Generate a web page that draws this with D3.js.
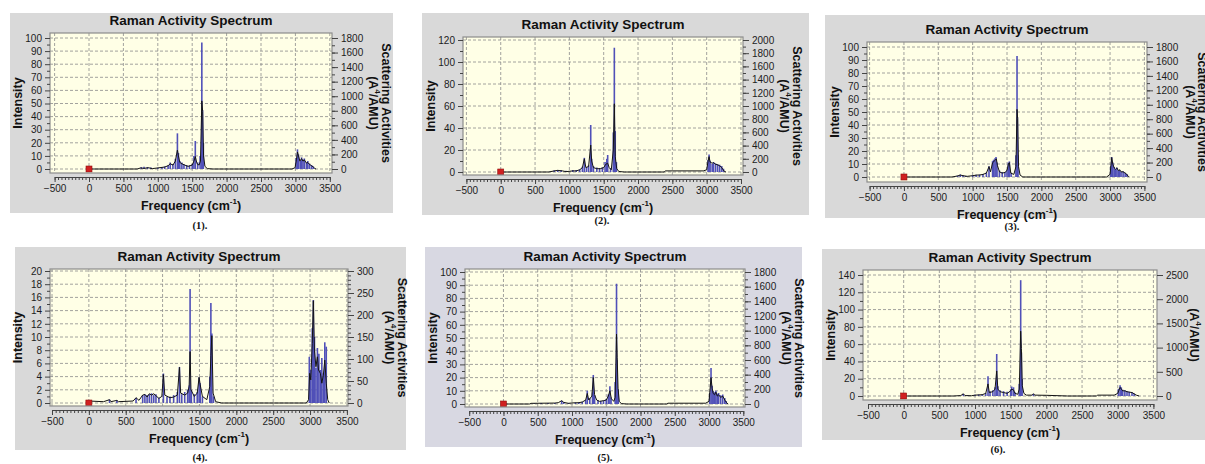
<!DOCTYPE html>
<html>
<head>
<meta charset="utf-8">
<script src="https://cdn.jsdelivr.net/npm/d3@7"></script>
<style>
  body { margin: 0; background: #fff; }
  svg { display: block; font-family: "Liberation Sans", Arial, sans-serif; }
  .tick text { font-size: 10px; fill: #1c1c1c; }
  .tick line { stroke: #444; }
</style>
</head>
<body>
<div id="container"></div>
<script>
// Stick spectra: [frequency cm-1, scattering activity A^4/AMU] (right axis)
const sticks1 = [[760,25],[800,30],[850,25],[900,20],[1000,18],[1060,25],[1100,35],[1150,50],[1180,90],[1220,70],[1255,140],[1285,490],[1300,220],[1320,110],[1350,90],[1380,70],[1420,55],[1460,50],[1500,70],[1525,180],[1545,385],[1580,90],[1615,180],[1640,1737],[1650,810],[1662,360],[3010,150],[3030,270],[3045,200],[3070,110],[3090,160],[3110,130],[3130,145],[3160,90],[3180,110],[3205,75],[3235,55],[3260,35]];
const sticks2 = [[780,25],[830,30],[880,25],[950,20],[1050,30],[1100,30],[1150,40],[1190,80],[1218,215],[1250,70],[1280,100],[1311,712],[1325,200],[1350,90],[1400,70],[1440,60],[1480,70],[1520,150],[1545,200],[1558,258],[1600,60],[1640,600],[1655,1883],[1668,620],[1685,150],[3020,180],[3035,267],[3050,170],[3080,120],[3100,150],[3130,130],[3160,120],[3190,110],[3220,90],[3245,50]];
const sticks3 = [[780,20],[820,35],[860,25],[900,15],[1000,25],[1050,30],[1100,35],[1150,40],[1200,60],[1238,150],[1290,220],[1305,240],[1325,260],[1340,277],[1355,200],[1390,90],[1430,70],[1470,70],[1500,100],[1520,200],[1535,216],[1560,60],[1630,300],[1646,1676],[1652,830],[1660,300],[3010,150],[3024,277],[3040,200],[3060,140],[3080,110],[3100,130],[3120,90],[3140,100],[3160,70],[3190,80],[3220,60],[3245,40]];
const sticks4 = [[280,8],[380,6],[640,12],[730,18],[760,20],[790,18],[820,20],[850,22],[880,18],[910,20],[950,12],[1011,67],[1060,15],[1100,15],[1150,18],[1200,25],[1229,82],[1260,20],[1300,25],[1340,30],[1360,40],[1373,259],[1390,30],[1430,20],[1470,25],[1495,58],[1510,45],[1540,15],[1640,60],[1655,227],[1668,158],[1690,15],[2990,105],[3010,75],[3030,170],[3045,234],[3060,150],[3080,80],[3100,125],[3120,112],[3140,75],[3160,102],[3180,68],[3200,138],[3220,128]];
const sticks5 = [[450,10],[550,12],[650,12],[750,15],[850,45],[880,25],[950,15],[1050,20],[1100,25],[1150,30],[1200,55],[1223,180],[1260,80],[1300,160],[1311,396],[1330,120],[1380,50],[1420,40],[1460,50],[1500,70],[1530,130],[1553,241],[1570,90],[1630,300],[1650,1640],[1658,600],[1675,200],[3010,150],[3029,491],[3045,250],[3060,180],[3080,160],[3100,180],[3120,140],[3140,150],[3170,120],[3200,130],[3230,80],[3250,40]];
const sticks6 = [[836,45],[900,15],[1000,25],[1050,30],[1100,30],[1150,60],[1182,407],[1210,100],[1250,120],[1280,180],[1304,868],[1320,200],[1350,120],[1400,100],[1450,90],[1500,140],[1514,196],[1540,180],[1560,80],[1620,250],[1640,2393],[1650,900],[1660,350],[1818,45],[3010,150],[3033,221],[3050,180],[3070,130],[3100,120],[3130,100],[3160,90],[3200,80],[3230,50]];

// Broadened spectra: [frequency cm-1, intensity] (left axis)
const line1 = [[0,0],[700,0],[750,0.8],[800,0.5],[860,1],[920,0.3],[1000,0.8],[1100,1.5],[1150,2.5],[1180,4],[1220,3],[1255,6],[1285,14.5],[1300,10],[1320,5],[1350,4],[1390,3],[1440,2],[1500,3],[1525,6],[1545,9.5],[1570,4],[1600,3],[1620,6],[1640,52],[1652,44],[1665,10],[1685,2],[1720,0.3],[1800,0],[2950,0],[2995,1],[3015,7],[3030,13],[3045,10],[3065,6],[3090,8],[3110,6],[3130,7],[3160,4.5],[3180,5],[3205,3.5],[3235,2.5],[3260,1.5],[3285,0.3],[3300,0]];
const line2 = [[0,0],[700,0],[780,1],[830,1.5],[900,1],[950,0.3],[1050,1],[1100,1],[1150,2],[1190,4],[1218,12],[1240,4],[1280,5],[1311,24.5],[1325,10],[1350,4],[1400,3],[1450,3],[1500,4],[1530,7],[1558,8],[1580,4],[1610,2],[1640,20],[1655,62],[1668,14],[1690,3],[1720,0.5],[1800,0],[2380,0],[2400,1],[2950,1],[3000,2],[3020,10],[3035,14],[3050,9],[3080,8],[3100,8.5],[3130,7],[3160,6.5],[3190,5.5],[3220,4],[3250,1],[3280,0]];
const line3 = [[0,0],[700,0],[780,0.8],[820,1.5],[860,1],[920,0.5],[1000,1],[1060,1.5],[1100,1.5],[1150,2],[1200,3],[1238,8],[1260,4],[1290,11],[1310,12],[1330,13],[1345,14],[1360,9],[1390,4],[1430,3],[1470,3.5],[1500,5],[1520,10],[1535,11],[1555,3],[1600,2],[1630,8],[1646,52],[1655,45],[1668,8],[1690,1.5],[1730,0],[2950,0],[3000,2],[3024,15],[3040,10],[3060,7],[3080,6],[3100,7],[3120,5],[3140,5.5],[3160,4],[3190,4],[3220,3],[3245,2],[3270,0]];
const line4 = [[0,0.3],[200,0.2],[280,0.5],[300,0.2],[380,0.4],[400,0.2],[600,0.3],[640,0.8],[680,0.4],[730,1.2],[760,1.3],[790,0.9],[820,1.4],[850,1.2],[880,1.4],[910,1.1],[950,0.7],[990,1],[1011,4.3],[1030,1.2],[1100,0.8],[1150,0.9],[1200,1.2],[1229,5.4],[1245,1.5],[1300,1.2],[1340,1.5],[1360,2.5],[1373,7.8],[1385,2],[1430,1],[1470,1.5],[1495,3.9],[1510,2.8],[1540,1],[1600,0.5],[1640,2.5],[1655,7.2],[1668,10.2],[1685,1.5],[1720,0.2],[1800,0],[2950,0],[2980,0.5],[2995,4.5],[3010,3.5],[3030,9],[3045,15.5],[3060,8],[3080,5.5],[3100,7],[3115,5],[3140,4.5],[3160,3],[3180,4.2],[3200,6.5],[3220,3],[3240,0.5],[3260,0]];
const line5 = [[0,0],[380,0],[400,0.5],[750,0.7],[800,1],[850,2.5],[880,1.2],[950,0.5],[1000,0.8],[1100,1],[1150,1.5],[1200,3],[1223,8],[1245,3],[1290,6],[1311,20],[1330,7],[1360,3],[1400,2],[1460,2.5],[1500,3],[1530,6],[1553,10],[1575,4],[1610,2],[1630,5],[1650,53],[1660,35],[1672,12],[1690,2],[1720,0.3],[1800,0],[2380,0],[2400,0.6],[2950,0.6],[3000,2],[3029,20],[3045,12],[3060,8],[3080,7],[3100,9],[3120,6],[3140,7],[3170,5],[3200,6],[3230,3],[3255,1],[3280,0]];
const line6 = [[0,0],[700,0],[800,0.5],[836,2.5],[860,0.5],[950,0.3],[1000,1],[1100,1.5],[1150,3],[1182,14],[1200,4],[1250,5],[1280,8],[1304,29],[1320,8],[1350,5],[1400,4],[1450,3],[1500,6],[1514,8],[1540,7],[1560,3],[1600,2],[1620,8],[1640,75],[1650,55],[1662,12],[1685,3],[1720,1],[1800,1],[1818,2.5],[1840,1],[2000,0.8],[2300,0],[2700,0],[2720,1],[2950,1],[3000,3],[3033,10],[3050,8],[3070,6],[3100,6],[3130,5],[3160,4.5],[3200,4],[3230,2.5],[3260,1],[3300,0]];

// Axis ranges and tick steps per panel
const captions = ['(1).', '(2).', '(3).', '(4).', '(5).', '(6).'];
const leftMax = [100, 120, 100, 20, 100, 140];
const leftStep = [10, 20, 10, 2, 10, 20];
const rightMax = [1800, 2000, 1800, 300, 1800, 2500];
const rightStep = [200, 200, 200, 50, 200, 500];
const rightMinor = [100, 100, 100, 10, 100, 0];
const freqDomain = [-500, 3500];
const freqTicks = d3.range(-500, 3501, 500);

const sticks = [sticks1, sticks2, sticks3, sticks4, sticks5, sticks6];
const lines = [line1, line2, line3, line4, line5, line6];

// Page layout: background box, plot frame, pixel positions of axis ends, caption,
// offsets of the two right-hand axis title lines (null = outside the picture)
const layout = [
  { bg: [10, 393, 13, 213], plot: [50, 332, 33, 173], x: [54.6, 329.8], y: [169, 38], cap: [200, 229], fill: '#d9d9d9', rt: [41, 54] },
  { bg: [422, 809, 13, 215], plot: [463, 743, 37, 175], x: [466.4, 741], y: [172, 40], cap: [602, 224], fill: '#d9d9d9', rt: [41, 54] },
  { bg: [825, 1205, 15, 218], plot: [867, 1147, 42, 182], x: [869.6, 1144.4], y: [177, 47], cap: [1012, 230], fill: '#d9d9d9', rt: [43, 55] },
  { bg: [15, 406, 247, 450], plot: [50, 348, 269, 406], x: [52, 346.9], y: [403, 271], cap: [200, 461], fill: '#d9d9d9', rt: [41, 54] },
  { bg: [425, 802, 247, 447], plot: [465, 745, 269, 407], x: [469.2, 743.3], y: [404, 272], cap: [605, 461], fill: '#d8d8e2', rt: [41, 54] },
  { bg: [822, 1205, 249, 440], plot: [863, 1157, 270, 400], x: [868, 1153.4], y: [396, 275], cap: [998, 453], fill: '#d9d9d9', rt: [37, null] }
];

const fmt = d3.format('d');

const svg = d3.select('#container').append('svg')
  .attr('width', 1205)
  .attr('height', 464);

layout.forEach((L, i) => {
  const [px0, px1, py0, py1] = L.plot;
  const g = svg.append('g');

  const x = d3.scaleLinear().domain(freqDomain).range(L.x);
  const yL = d3.scaleLinear().domain([0, leftMax[i]]).range(L.y);
  const yR = d3.scaleLinear().domain([0, rightMax[i]]).range(L.y);

  g.append('rect')
    .attr('x', L.bg[0]).attr('y', L.bg[2])
    .attr('width', L.bg[1] - L.bg[0]).attr('height', L.bg[3] - L.bg[2])
    .attr('fill', L.fill);

  g.append('rect')
    .attr('x', px0).attr('y', py0)
    .attr('width', px1 - px0).attr('height', py1 - py0)
    .attr('fill', '#ffffe6');

  // dashed grid
  const grid = g.append('g')
    .attr('stroke', '#8a8a8a')
    .attr('stroke-dasharray', '3,2')
    .attr('stroke-width', 0.8);
  grid.selectAll('.h')
    .data(d3.range(0, leftMax[i] + 1e-6, leftStep[i]))
    .enter().append('line')
    .attr('x1', px0).attr('x2', px1)
    .attr('y1', d => yL(d)).attr('y2', d => yL(d));
  grid.selectAll('.v')
    .data(freqTicks)
    .enter().append('line')
    .attr('y1', py0).attr('y2', py1)
    .attr('x1', d => x(d)).attr('x2', d => x(d));

  const clipId = 'clip' + i;
  g.append('clipPath').attr('id', clipId)
    .append('rect')
    .attr('x', px0).attr('y', py0)
    .attr('width', px1 - px0).attr('height', py1 - py0);

  const spec = g.append('g').attr('clip-path', `url(#${clipId})`);

  spec.append('g')
    .selectAll('line')
    .data(sticks[i])
    .enter().append('line')
    .attr('x1', d => x(d[0])).attr('x2', d => x(d[0]))
    .attr('y1', yR(0)).attr('y2', d => yR(d[1]))
    .attr('stroke', '#5050b8')
    .attr('stroke-width', 1.6);

  spec.append('path')
    .datum(lines[i])
    .attr('fill', 'none')
    .attr('stroke', '#141414')
    .attr('stroke-width', 1)
    .attr('d', d3.line().x(d => x(d[0])).y(d => yL(d[1])));

  spec.append('rect')
    .attr('x', x(0) - 3).attr('y', yL(0) - 3)
    .attr('width', 6).attr('height', 6)
    .attr('fill', '#d02020')
    .attr('stroke', '#901010')
    .attr('stroke-width', 0.6);

  g.append('rect')
    .attr('x', px0).attr('y', py0)
    .attr('width', px1 - px0).attr('height', py1 - py0)
    .attr('fill', 'none')
    .attr('stroke', '#8c8c8c')
    .attr('stroke-width', 1.2);

  // left axis
  g.append('g')
    .attr('transform', `translate(${px0},0)`)
    .call(d3.axisLeft(yL).tickValues(d3.range(leftStep[i] / 2, leftMax[i], leftStep[i])).tickSize(3).tickFormat(''))
    .call(a => a.select('.domain').remove());
  g.append('g')
    .attr('transform', `translate(${px0},0)`)
    .call(d3.axisLeft(yL).tickValues(d3.range(0, leftMax[i] + 1e-6, leftStep[i])).tickSize(5).tickPadding(3).tickFormat(fmt))
    .call(a => a.select('.domain').remove());

  // right axis
  if (rightMinor[i]) {
    g.append('g')
      .attr('transform', `translate(${px1},0)`)
      .call(d3.axisRight(yR).tickValues(d3.range(0, rightMax[i] + 1e-6, rightMinor[i])).tickSize(3).tickFormat(''))
      .call(a => a.select('.domain').remove());
  }
  g.append('g')
    .attr('transform', `translate(${px1},0)`)
    .call(d3.axisRight(yR).tickValues(d3.range(0, rightMax[i] + 1e-6, rightStep[i])).tickSize(6).tickPadding(3).tickFormat(fmt))
    .call(a => a.select('.domain').remove());

  // bottom ruler
  g.append('g')
    .attr('transform', `translate(0,${py1 + 4})`)
    .call(d3.axisBottom(x).tickValues(d3.range(-500, 3501, 50)).tickSize(3).tickFormat('').tickSizeOuter(0))
    .call(a => a.select('.domain').attr('stroke', '#444'));
  g.append('g')
    .attr('transform', `translate(0,${py1 + 4})`)
    .call(d3.axisBottom(x).tickValues(freqTicks).tickSize(5).tickPadding(3).tickFormat(fmt))
    .call(a => a.select('.domain').remove());

  // texts
  g.append('text')
    .attr('x', (px0 + px1) / 2).attr('y', py0 - 13)
    .attr('text-anchor', 'middle').attr('dominant-baseline', 'central')
    .attr('font-size', 13.5).attr('font-weight', 'bold').attr('fill', '#111')
    .text('Raman Activity Spectrum');

  const xl = g.append('text')
    .attr('x', (px0 + px1) / 2).attr('y', py1 + 33)
    .attr('text-anchor', 'middle').attr('dominant-baseline', 'central')
    .attr('font-size', 12.5).attr('font-weight', 'bold').attr('fill', '#111');
  xl.append('tspan').text('Frequency (cm');
  xl.append('tspan').attr('font-size', 8).attr('dy', -5).text('-1');
  xl.append('tspan').attr('dy', 5).text(')');

  g.append('text')
    .attr('transform', `translate(${px0 - 32},${(py0 + py1) / 2}) rotate(-90)`)
    .attr('text-anchor', 'middle').attr('dominant-baseline', 'central')
    .attr('font-size', 12.5).attr('font-weight', 'bold').attr('fill', '#111')
    .text('Intensity');

  if (L.rt[1] !== null) {
    g.append('text')
      .attr('transform', `translate(${px1 + L.rt[1]},${(py0 + py1) / 2}) rotate(90)`)
      .attr('text-anchor', 'middle').attr('dominant-baseline', 'central')
      .attr('font-size', 12.5).attr('font-weight', 'bold').attr('fill', '#111')
      .text('Scattering Activities');
  }

  const au = g.append('text')
    .attr('transform', `translate(${px1 + L.rt[0]},${(py0 + py1) / 2}) rotate(90)`)
    .attr('text-anchor', 'middle').attr('dominant-baseline', 'central')
    .attr('font-size', 12.5).attr('font-weight', 'bold').attr('fill', '#111');
  au.append('tspan').text('(A');
  au.append('tspan').attr('font-size', 8).attr('dy', -5).text('4');
  au.append('tspan').attr('dy', 5).text('/AMU)');

  g.append('text')
    .attr('x', L.cap[0]).attr('y', L.cap[1])
    .attr('text-anchor', 'middle')
    .attr('font-family', '"Liberation Serif", serif')
    .attr('font-size', 10.5).attr('font-weight', 'bold').attr('fill', '#111')
    .text(captions[i]);
});
</script>
</body>
</html>
